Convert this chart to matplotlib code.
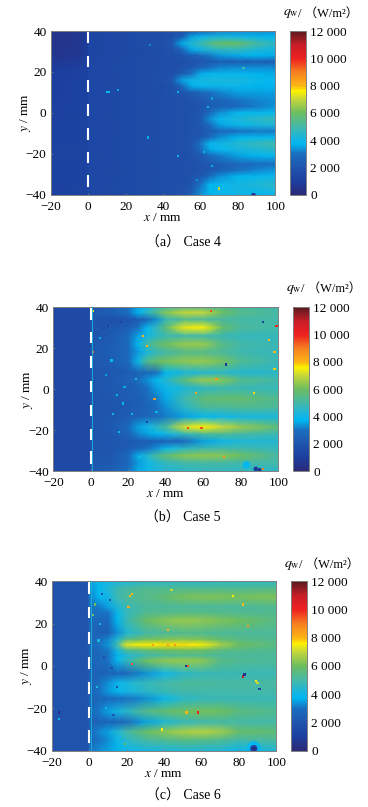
import matplotlib
matplotlib.use('Agg')
import matplotlib.pyplot as plt
from matplotlib.colors import LinearSegmentedColormap, Normalize

plt.rcParams['font.family'] = ['Liberation Serif', 'Noto Sans CJK SC']
plt.rcParams['mathtext.fontset'] = 'stix'

W, H = 368, 807

# heat flux maps in W/m2, rows follow the streaks so each panel has its own nodes
x4 = [0, 30, 40, 45, 50, 55, 60, 65, 70, 80, 90, 100]
y4 = [40, 37, 34, 31, 28, 25, 22, 19, 16, 13, 10, 6, 3, 0, -3, -6, -9, -12, -15, -18, -21, -25, -28, -31, -35, -40]
case4 = [
    [1300, 1600, 1700, 1800, 1900, 2100, 2600, 3000, 3200, 3300, 3300, 3300],
    [1300, 1600, 1700, 1900, 2300, 3500, 3900, 4100, 4200, 4100, 3900, 3700],
    [1300, 1600, 1800, 2100, 3600, 4300, 4800, 5400, 5900, 5900, 5100, 4500],
    [1300, 1600, 1700, 1900, 2700, 3600, 4100, 4400, 4600, 4700, 4300, 4100],
    [1300, 1600, 1700, 1800, 2000, 2300, 2700, 3100, 3400, 3600, 3700, 3600],
    [1400, 1600, 1700, 1700, 1800, 1900, 2100, 2200, 2300, 2300, 2300, 2300],
    [1400, 1600, 1700, 1700, 1900, 2200, 2700, 3000, 3200, 3300, 3300, 3300],
    [1400, 1600, 1700, 1800, 2300, 3000, 3600, 3800, 3800, 3800, 3700, 3600],
    [1400, 1600, 1800, 2100, 3500, 4000, 4100, 4200, 4200, 4200, 3900, 3800],
    [1400, 1600, 1700, 1900, 2700, 3600, 3800, 3900, 3900, 3900, 3700, 3700],
    [1400, 1600, 1700, 1800, 2000, 2300, 2700, 3000, 3200, 3500, 3500, 3500],
    [1400, 1600, 1700, 1700, 1800, 1900, 2100, 2400, 2600, 3000, 3200, 3300],
    [1400, 1600, 1700, 1700, 1800, 1800, 2000, 2300, 2500, 2800, 3100, 3400],
    [1400, 1600, 1700, 1700, 1800, 1900, 2100, 2800, 3300, 3800, 3800, 3900],
    [1400, 1600, 1700, 1700, 1800, 1900, 2200, 3300, 3900, 4200, 4500, 4700],
    [1400, 1600, 1700, 1700, 1800, 1900, 2100, 2900, 3500, 3900, 4100, 4300],
    [1400, 1600, 1700, 1700, 1800, 1900, 2000, 2300, 2600, 3000, 3100, 3100],
    [1400, 1600, 1700, 1700, 1800, 1900, 2200, 2800, 3300, 3700, 3800, 3800],
    [1400, 1600, 1700, 1700, 1800, 2000, 3000, 3800, 4000, 4400, 4700, 4900],
    [1400, 1600, 1700, 1700, 1800, 2000, 2800, 3600, 3800, 4100, 4300, 4500],
    [1400, 1600, 1700, 1700, 1700, 1900, 2200, 2800, 3100, 3500, 3700, 3800],
    [1400, 1600, 1700, 1700, 1700, 1800, 2000, 2200, 2400, 2700, 2900, 3000],
    [1400, 1600, 1700, 1700, 1700, 1800, 1900, 2100, 2300, 2900, 3200, 3400],
    [1400, 1600, 1700, 1700, 1700, 1900, 2100, 2800, 3300, 3700, 3800, 3900],
    [1400, 1600, 1700, 1700, 1800, 2000, 3000, 3700, 3800, 4100, 4300, 4500],
    [1400, 1600, 1700, 1800, 1900, 2300, 3300, 3800, 3900, 4000, 3700, 3900],
]

x5 = [0, 10, 20, 25, 30, 35, 40, 50, 60, 70, 80, 100]
y5 = [40, 37.5, 34, 30, 26, 22, 18, 13.5, 8, 4.5, 0.5, -4.5, -9, -13.5, -18.5, -22, -25.5, -29, -32.5, -36, -40]
case5 = [
    [2100, 2300, 2900, 3500, 4200, 4700, 5000, 5400, 5400, 5300, 5100, 4900],
    [2200, 2300, 3000, 3700, 4500, 5400, 6300, 7000, 7000, 6000, 5400, 5100],
    [2000, 1800, 2000, 2200, 2700, 3300, 4700, 5300, 5200, 5100, 5000, 5000],
    [2000, 2100, 2400, 3000, 3800, 4700, 5700, 7400, 7500, 5900, 5200, 5000],
    [2000, 2200, 2800, 3500, 4100, 4500, 4800, 5000, 5000, 4800, 4700, 4700],
    [2100, 2300, 2800, 3700, 5000, 5700, 6000, 6500, 6500, 5500, 5000, 4800],
    [2100, 2300, 2800, 3400, 4200, 4700, 5000, 5400, 5400, 5200, 4900, 4700],
    [2100, 2300, 2800, 3900, 5400, 5900, 6100, 6400, 6500, 6100, 5300, 4800],
    [2000, 2100, 2300, 2500, 2800, 3000, 3700, 4200, 4400, 4500, 4400, 4500],
    [2000, 2200, 2500, 2900, 3300, 3800, 4400, 5700, 6500, 6300, 5400, 5000],
    [2000, 2200, 2300, 2500, 3000, 3500, 3900, 4300, 4600, 4800, 4800, 4700],
    [2000, 2100, 2300, 2400, 2700, 3100, 3600, 4900, 5700, 5800, 5800, 5300],
    [2000, 2000, 2200, 2400, 2600, 2900, 3300, 4500, 5200, 5200, 5300, 5200],
    [2000, 2100, 2300, 2500, 2700, 2900, 3100, 3500, 3800, 4000, 4100, 4200],
    [2000, 2200, 2800, 3500, 4000, 4500, 5200, 7200, 7600, 7000, 6500, 5700],
    [2000, 2100, 2600, 3200, 3500, 3700, 4000, 4700, 5200, 5300, 5100, 4800],
    [2000, 2000, 2200, 2300, 2300, 2400, 2500, 2800, 3500, 4000, 4300, 4400],
    [2000, 2000, 2300, 2600, 3000, 3300, 3900, 4500, 4900, 5000, 4900, 4700],
    [2000, 2100, 2800, 3600, 4400, 5200, 5700, 6300, 6400, 6300, 6000, 5100],
    [2100, 2200, 2700, 3400, 4000, 4400, 4700, 5000, 5100, 5100, 5000, 5000],
    [2200, 2400, 3000, 3600, 4000, 4200, 4300, 4500, 4600, 4600, 4500, 4500],
]

x6 = [0, 5, 10, 15, 20, 30, 40, 50, 60, 70, 80, 100]
y6 = [40, 36.5, 32.5, 28, 25, 21.5, 15.5, 12.5, 10, 7.5, 5, 2.5, -3.5, -8, -12, -15.5, -21.5, -26.5, -31, -35, -40]
case6 = [
    [3400, 3800, 4000, 4200, 4300, 4500, 4500, 4500, 4500, 4600, 4600, 4600],
    [3300, 3800, 4300, 4800, 5100, 5300, 5300, 5300, 5300, 5300, 5300, 5400],
    [3100, 3700, 4000, 4900, 5200, 5400, 5700, 6100, 6200, 6200, 6100, 6200],
    [3000, 3100, 3500, 4300, 4800, 5200, 5200, 5200, 5200, 5200, 5200, 5300],
    [2900, 3000, 3000, 3800, 4700, 5300, 5400, 5500, 5500, 5400, 5300, 5300],
    [2800, 2800, 2700, 3700, 4800, 5900, 6300, 6500, 6400, 6200, 6000, 5500],
    [2700, 2500, 2400, 3300, 4300, 5000, 5200, 5300, 5300, 5200, 5200, 5200],
    [2700, 2900, 3200, 4300, 5500, 6000, 6200, 6300, 6200, 5800, 5500, 5300],
    [2800, 3000, 3400, 5000, 7300, 7600, 7700, 7700, 7500, 6700, 6000, 5500],
    [2600, 2800, 3100, 4200, 5300, 5800, 6000, 6100, 6000, 5600, 5400, 5300],
    [2600, 2700, 3000, 3700, 4300, 4900, 5200, 5300, 5300, 5200, 5200, 5200],
    [2600, 2800, 3000, 3800, 4600, 6000, 6400, 6500, 6400, 5500, 5300, 5200],
    [2500, 2500, 2500, 2600, 2700, 3300, 4000, 4500, 4700, 4800, 4800, 4800],
    [2600, 2900, 3300, 3900, 4200, 4700, 5000, 5200, 5200, 5100, 5100, 5100],
    [2600, 3000, 3400, 3800, 4100, 4500, 4800, 5000, 5000, 5000, 5000, 5000],
    [2500, 2700, 2800, 2900, 3000, 3300, 3900, 4500, 4700, 4800, 4800, 4800],
    [2700, 3100, 3500, 4100, 4500, 5400, 5800, 6000, 6100, 6000, 5600, 5300],
    [2500, 2500, 2500, 2600, 2800, 3500, 4300, 4700, 4900, 5000, 5000, 5000],
    [2800, 3200, 3500, 4300, 5000, 5900, 6300, 6700, 6800, 6600, 5900, 5700],
    [2800, 3000, 3300, 3900, 4500, 5100, 5300, 5500, 5500, 5300, 5000, 5200],
    [3000, 3300, 3500, 3700, 3900, 4100, 4200, 4300, 4300, 4300, 3900, 4300],
]

# the region ahead of x = 0
upstream_x = [-20, -6, 0]
upstream_y = [40, 28, 20, 0, -20, -40]
upstream4 = [[500, 600, 900], [600, 700, 1000], [1000, 1100, 1200], [1100, 1200, 1200], [1200, 1200, 1200], [1100, 1200, 1200]]
upstream5 = [[1500, 1500, 1500]] * 6
upstream6 = [[1950, 1950, 1950]] * 6

# isolated hot and cold spots
spots4_x = [10, 11, 16, 32, 48, 33, 66, 64, 66, 62, 48, 58, 70, 83]
spots4_y = [10, 10, 11, -12, -21, 33, 7, 3, -26, -19, 10, -33, -37, 22]
spots4_v = [3800, 3800, 3500, 3600, 3700, 3200, 3500, 3800, 3600, 3800, 3700, 3400, 7000, 5000]

spots5_x = [64, 99, 72, 67, 56, 34, 28, 30, 1, 1, 7, 92, 92, 71, 95, 87, 52, 59, 9, 14, 17, 24, 27, 11, 12, 22, 18, 35, 30, 15, 26, 8, 5, 98, 98, 16]
spots5_y = [38, 31, 12, 5, -2, -5, 26, 21, 18, 38, 30, 33, -39, -33, 24, -2, -19, -19, 31, -3, -7, 5, 19, 14, -12, -12, 1, -11, -16, -21, -33, 7, 25, 18, 10, 33]
spots5_v = [9500, 10000, 600, 8500, 8300, 8500, 8000, 8000, 9000, 7500, 800, 1200, 9000, 8500, 8000, 7800, 9500, 9500, 1000, 3800, 3800, 4200, 4000, 3800, 4000, 4000, 3600, 3800, 1500, 3800, 4000, 3500, 3600, 8000, 7800, 1200]

spots6_x = [23, 22, 21, 23, 42, 52, 53, 58, 82, 83, 85, 82, 3, 2, -16, -16, 52, 89, 91, 90, 44, 5, 8, 12, 4, 9, 15, 11, 7, 19, 13, 6, 77, 39, 34, 42, 46]
spots6_y = [34, 33, 28, 1, 17, 0, 0, -22, -5, -4, 19, 29, 29, 24, -22, -25, -22, -7, -11, -8, 36, 12, 4, -1, -10, -20, -10, 31, 34, -37, -23, 20, 33, -30, 10, 10, 10]
spots6_v = [8000, 8000, 8200, 9500, 8000, 600, 9500, 10000, 11000, 500, 8500, 8000, 6000, 6000, 300, 4000, 8000, 7500, 1200, 7000, 7000, 4200, 1800, 1800, 4200, 4000, 2200, 1800, 2000, 6000, 2200, 4300, 7500, 7500, 8400, 8500, 8500]

# the cooler patches around the model mark at the bottom right
halo4_x = [88]
halo4_y = [-40]
halo4_v = [600]
halo5_x = [83, 88, 90]
halo5_y = [-37, -39, -39.5]
halo5_v = [3800, 1000, 500]
halo6_x = [88, 88, 88]
halo6_y = [-39, -39, -39]
halo6_v = [3800, 1500, 300]
halo4_s = [14]
halo5_s = [30, 12, 8]
halo6_s = [110, 28, 9]

cmap_values = [0, 1000, 2000, 3000, 3700, 4000, 5000, 6000, 7000, 7600, 8000, 9000, 10000, 11000, 12000]
cmap_colors = ['#2b2a78', '#1c3f9f', '#1f55ad', '#1a6fc0', '#00b8f0', '#10b5e8', '#45b8a8', '#6cbd60',
               '#c5d63a', '#fff200', '#fdb515', '#f58020', '#ee2020', '#c81e28', '#5a1a1e']

x_ticks = [-20, 0, 20, 40, 60, 80, 100]
y_ticks = [-40, -20, 0, 20, 40]
cbar_ticks = [0, 2000, 4000, 6000, 8000, 10000, 12000]
cbar_labels = ['0', '2 000', '4 000', '6 000', '8 000', '10 000', '12 000']
dash_top = [39.5, 28, 16, 4.2, -7.6, -19.3, -30.4]
dash_low = [34, 22.6, 10.3, -1.4, -13.3, -24.7, -36.4]

cmap = LinearSegmentedColormap.from_list('flux', [(v / 12000, c) for v, c in zip(cmap_values, cmap_colors)])
norm = Normalize(0, 12000)
edge = '#808080'


def px_axes(fig, left, top, right, bottom):
    return fig.add_axes([left / W, 1 - bottom / H, (right - left) / W, (bottom - top) / H])


def draw_panel(fig, box, cbar_box, xs, ys, grid, upstream, spots, halos, caption, caption_y, label_y, wall_line):
    ax = px_axes(fig, *box)
    ax.pcolormesh(upstream_x, upstream_y, upstream, cmap=cmap, norm=norm, shading='gouraud')
    ax.pcolormesh(xs, ys, grid, cmap=cmap, norm=norm, shading='gouraud')
    ax.scatter(halos[0], halos[1], c=halos[2], s=halos[3], cmap=cmap, norm=norm, linewidths=0, zorder=2)
    ax.scatter(spots[0], spots[1], c=spots[2], cmap=cmap, norm=norm, s=2.5, marker='s', linewidths=0, zorder=3)

    if wall_line:
        ax.plot([0.9, 0.9], [-40, 40], color=cmap(norm(4200)), lw=0.6, zorder=3)
    # wall marker, drawn as separate white dashes
    for top_y, low_y in zip(dash_top, dash_low):
        ax.plot([0, 0], [top_y, low_y], color='white', lw=1.5, solid_capstyle='butt', zorder=4)

    ax.set_xlim(-20, 100)
    ax.set_ylim(-40, 40)
    ax.set_xticks(x_ticks)
    ax.set_yticks(y_ticks)
    ax.set_xticklabels([str(v).replace('-', '\u2212') for v in x_ticks])
    ax.set_yticklabels([str(v).replace('-', '\u2212') for v in y_ticks])
    ax.tick_params(direction='in', length=1.5, width=0.5, color=edge, labelsize=9.5)
    ax.tick_params(axis='x', pad=4.5)
    ax.tick_params(axis='y', pad=3)
    ax.set_xlabel(r'$x$ / mm', fontsize=9.5, labelpad=-1)
    ax.set_ylabel(r'$y$ / mm', fontsize=9.5, labelpad=-5)
    for s in ax.spines.values():
        s.set_color(edge)
        s.set_linewidth(0.7)

    cax = px_axes(fig, *cbar_box)
    cb = fig.colorbar(plt.cm.ScalarMappable(norm=norm, cmap=cmap), cax=cax)
    cb.set_ticks(cbar_ticks)
    cb.set_ticklabels(cbar_labels)
    cb.ax.tick_params(length=1, width=0.5, color=edge, labelsize=9.5, pad=3, direction='in')
    cb.outline.set_edgecolor(edge)
    cb.outline.set_linewidth(0.7)

    lx = cbar_box[0] - 7
    fig.text(lx / W, 1 - label_y / H, r'$q_{\mathrm{w}}$', fontsize=10, va='center', ha='left')
    fig.text((lx + 15) / W, 1 - label_y / H, '/ \uff08W/m\u00b2\uff09', fontsize=9, va='center', ha='left')
    fig.text(183 / W, 1 - caption_y / H, caption, fontsize=10, va='center', ha='center')


fig = plt.figure(figsize=(W / 100, H / 100), dpi=100)

draw_panel(fig, (50.7, 31, 275.3, 194.7), (290, 31, 306, 194.7), x4, y4, case4, upstream4,
           (spots4_x, spots4_y, spots4_v), (halo4_x, halo4_y, halo4_v, halo4_s),
           '\uff08a\uff09 Case 4', 243, 14, False)
draw_panel(fig, (53.3, 307.3, 278.3, 471), (293.3, 307.3, 309, 471), x5, y5, case5, upstream5,
           (spots5_x, spots5_y, spots5_v), (halo5_x, halo5_y, halo5_v, halo5_s),
           '\uff08b\uff09 Case 5', 518, 289, True)
draw_panel(fig, (51.7, 581.3, 276.3, 750.7), (291, 581.3, 307.3, 750.7), x6, y6, case6, upstream6,
           (spots6_x, spots6_y, spots6_v), (halo6_x, halo6_y, halo6_v, halo6_s),
           '\uff08c\uff09 Case 6', 796, 565, True)

fig.savefig('out.png', dpi=100)
